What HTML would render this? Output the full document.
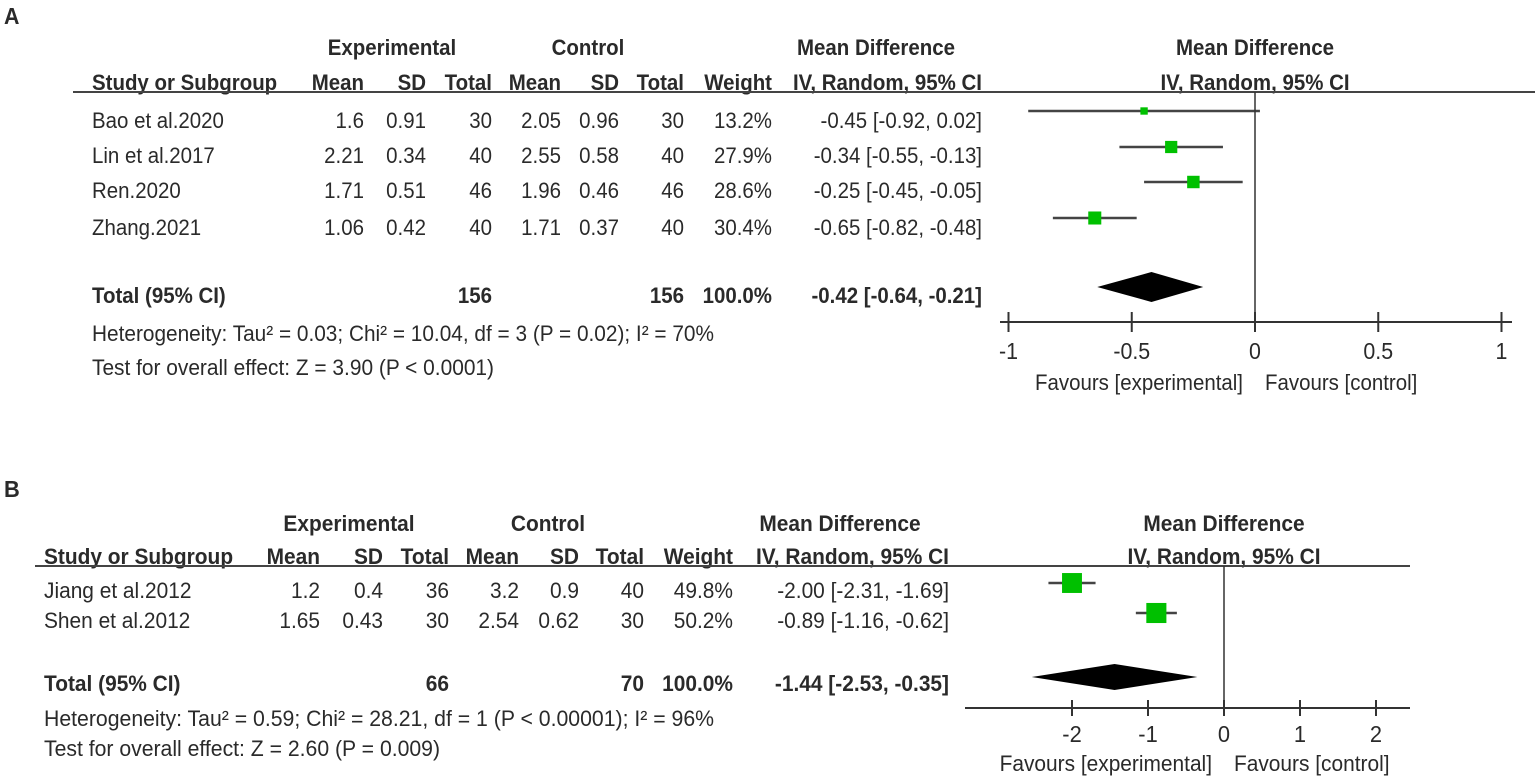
<!DOCTYPE html>
<html><head><meta charset="utf-8"><style>
html,body{margin:0;padding:0;background:#fff;}
svg{display:block;font-family:"Liberation Sans",Arial,sans-serif;}
text{fill:#2a2a2a;}
</style></head><body>
<svg id="fig" width="1535" height="782" viewBox="0 0 1535 782"></svg>
<script>
// Panel A data
const studiesA = ["Bao et al.2020","Lin et al.2017","Ren.2020","Zhang.2021"];
const expMeanA = ["1.6","2.21","1.71","1.06"];
const expSdA = ["0.91","0.34","0.51","0.42"];
const expNA = ["30","40","46","40"];
const ctlMeanA = ["2.05","2.55","1.96","1.71"];
const ctlSdA = ["0.96","0.58","0.46","0.37"];
const ctlNA = ["30","40","46","40"];
const weightA = [13.2,27.9,28.6,30.4];
const mdA = [-0.45,-0.34,-0.25,-0.65];
const loA = [-0.92,-0.55,-0.45,-0.82];
const hiA = [0.02,-0.13,-0.05,-0.48];
const totalA = [-0.42,-0.64,-0.21];
const ticksA = [-1,-0.5,0,0.5,1];
// Panel B data
const studiesB = ["Jiang et al.2012","Shen et al.2012"];
const expMeanB = ["1.2","1.65"];
const expSdB = ["0.4","0.43"];
const expNB = ["36","30"];
const ctlMeanB = ["3.2","2.54"];
const ctlSdB = ["0.9","0.62"];
const ctlNB = ["40","30"];
const weightB = [49.8,50.2];
const mdB = [-2.00,-0.89];
const loB = [-2.31,-1.16];
const hiB = [-1.69,-0.62];
const totalB = [-1.44,-2.53,-0.35];
const ticksB = [-2,-1,0,1,2];

const NS="http://www.w3.org/2000/svg";
const svg=document.getElementById('fig');
let SCALE=0.94;
function el(tag,attrs,parent){const e=document.createElementNS(NS,tag);for(const k in attrs)e.setAttribute(k,attrs[k]);(parent||svg).appendChild(e);return e;}
function txt(s,x,y,opt,parent){
  opt=opt||{};
  const t=el('text',{x:0,y:0,transform:`translate(${x},${y}) scale(${SCALE},1)`,'font-size':opt.size||22,'text-anchor':opt.anchor||'start','font-weight':opt.bold?'bold':'normal'},parent);
  if(opt.len){t.setAttribute('textLength',opt.len/SCALE);t.setAttribute('lengthAdjust','spacingAndGlyphs');}
  t.textContent=s;
  return t;
}
function f2(v){return (v<0?'-':'')+Math.abs(v).toFixed(2);}

function panel(cfg){
  SCALE=cfg.scale;
  const g=el('g',{});
  
  
  const fs=cfg.fs;
  const lbl=txt(cfg.label,cfg.labelX,cfg.labelY,{size:23,bold:true},g);
  
  
  const h=el('g',{},g);
  
  
  txt('Experimental',cfg.expC,cfg.y1,{size:fs,bold:true,anchor:'middle'},h);
  txt('Control',cfg.ctlC,cfg.y1,{size:fs,bold:true,anchor:'middle'},h);
  txt('Mean Difference',cfg.mdC,cfg.y1,{size:fs,bold:true,anchor:'middle'},h);
  txt('Mean Difference',cfg.x0,cfg.y1,{size:fs,bold:true,anchor:'middle'},h);
  txt('Study or Subgroup',cfg.sx,cfg.y2,{size:fs,bold:true},h);
  const hdr=['Mean','SD','Total','Mean','SD','Total','Weight','IV, Random, 95% CI'];
  hdr.forEach((s,i)=>txt(s,cfg.cols[i],cfg.y2,{size:fs,bold:true,anchor:'end'},h));
  txt('IV, Random, 95% CI',cfg.x0,cfg.y2,{size:fs,bold:true,anchor:'middle'},h);
  const hl=el('line',{x1:cfg.lineX,x2:cfg.lineX2,y1:cfg.hline,y2:cfg.hline,stroke:'#444','stroke-width':2},g);
  
  
  const sx=v=>cfg.x0+v*cfg.unit;
  cfg.studies.forEach((s,i)=>{
    const r=el('g',{},g);
    
    
    const ty=cfg.rowY[i];
    txt(s,cfg.sx,ty,{size:fs},r);
    const vals=[cfg.em[i],cfg.es[i],cfg.en[i],cfg.cm[i],cfg.cs[i],cfg.cn[i],cfg.w[i].toFixed(1)+'%',f2(cfg.md[i])+' ['+f2(cfg.lo[i])+', '+f2(cfg.hi[i])+']'];
    vals.forEach((v,j)=>txt(v,cfg.cols[j],ty,{size:fs,anchor:'end'},r));
    const cy=cfg.markY[i];
    const ci=el('line',{x1:sx(cfg.lo[i]),x2:sx(cfg.hi[i]),y1:cy,y2:cy,stroke:'#444','stroke-width':2.5},r);
    
    
    const sz=cfg.sqBase+cfg.w[i]*cfg.sqK;
    const sq=el('rect',{x:sx(cfg.md[i])-sz/2,y:cy-sz/2,width:sz,height:sz,fill:'#00c000'},r);
    
    
  });
  const tr=el('g',{},g);
  
  
  txt('Total (95% CI)',cfg.sx,cfg.totY,{size:fs,bold:true},tr);
  txt(cfg.totE,cfg.cols[2],cfg.totY,{size:fs,bold:true,anchor:'end'},tr);
  txt(cfg.totC,cfg.cols[5],cfg.totY,{size:fs,bold:true,anchor:'end'},tr);
  txt('100.0%',cfg.cols[6],cfg.totY,{size:fs,bold:true,anchor:'end'},tr);
  txt(f2(cfg.tot[0])+' ['+f2(cfg.tot[1])+', '+f2(cfg.tot[2])+']',cfg.cols[7],cfg.totY,{size:fs,bold:true,anchor:'end'},tr);
  const dy=cfg.diaY,dh=cfg.diaH;
  const d=el('polygon',{points:`${sx(cfg.tot[1])},${dy} ${sx(cfg.tot[0])},${dy-dh} ${sx(cfg.tot[2])},${dy} ${sx(cfg.tot[0])},${dy+dh}`,fill:'#000'},tr);
  
  
  const het=txt(cfg.het,cfg.sx,cfg.hetY,{size:fs,len:cfg.hetLen},g);
  
  
  const te=txt(cfg.test,cfg.sx,cfg.testY,{size:fs,len:cfg.testLen},g);
  
  
  const z=el('line',{x1:sx(0),x2:sx(0),y1:cfg.hline,y2:cfg.axY,stroke:'#333','stroke-width':1.5},g);
  
  
  const ax=el('g',{},g);
  
  
  el('line',{x1:cfg.axX1,x2:cfg.axX2,y1:cfg.axY,y2:cfg.axY,stroke:'#333','stroke-width':2},ax);
  cfg.ticks.forEach(t=>{
    el('line',{x1:sx(t),x2:sx(t),y1:cfg.axY-cfg.tk,y2:cfg.axY+cfg.tk,stroke:'#333','stroke-width':2},ax);
    const tl=txt(String(t),sx(t),cfg.tickY,{size:fs+1,anchor:'middle'},ax);
    
    
  });
  const fe=txt('Favours [experimental]',sx(0)-12,cfg.favY,{size:fs,anchor:'end'},g);
  
  
  const fc=txt('Favours [control]',sx(0)+10,cfg.favY,{size:fs,anchor:'start'},g);
  
  
}

panel({name:'panel-a',label:'A',labelX:4,labelY:24,fs:22,scale:0.93,
  expC:392,ctlC:588,mdC:876,y1:55,y2:90,sx:92,
  cols:[364,426,492,561,619,684,772,982],lineX:73,lineX2:1535,hline:92,
  x0:1255,unit:246.5,studies:studiesA,em:expMeanA,es:expSdA,en:expNA,cm:ctlMeanA,cs:ctlSdA,cn:ctlNA,
  w:weightA,md:mdA,lo:loA,hi:hiA,rowY:[128,163,198,235],markY:[111,147,182,218],sqBase:3,sqK:0.33,
  totY:303,totE:'156',totC:'156',tot:totalA,diaY:287,diaH:15,
  het:'Heterogeneity: Tau² = 0.03; Chi² = 10.04, df = 3 (P = 0.02); I² = 70%',hetY:341,hetLen:622,
  test:'Test for overall effect: Z = 3.90 (P < 0.0001)',testY:375,testLen:402,
  axX1:1000,axX2:1512,axY:322,tk:10,ticks:ticksA,tickY:359,favY:390});

panel({name:'panel-b',label:'B',labelX:4,labelY:497,fs:22,scale:0.95,
  expC:349,ctlC:548,mdC:840,y1:531,y2:564,sx:44,
  cols:[320,383,449,519,579,644,733,949],lineX:35,lineX2:1410,hline:566,
  x0:1224,unit:76,studies:studiesB,em:expMeanB,es:expSdB,en:expNB,cm:ctlMeanB,cs:ctlSdB,cn:ctlNB,
  w:weightB,md:mdB,lo:loB,hi:hiB,rowY:[598,628],markY:[583,613],sqBase:0,sqK:0.4,
  totY:691,totE:'66',totC:'70',tot:totalB,diaY:677,diaH:13,
  het:'Heterogeneity: Tau² = 0.59; Chi² = 28.21, df = 1 (P < 0.00001); I² = 96%',hetY:726,hetLen:670,
  test:'Test for overall effect: Z = 2.60 (P = 0.009)',testY:756,testLen:396,
  axX1:965,axX2:1410,axY:708,tk:8,ticks:ticksB,tickY:742,favY:771});
</script>
</body></html>
